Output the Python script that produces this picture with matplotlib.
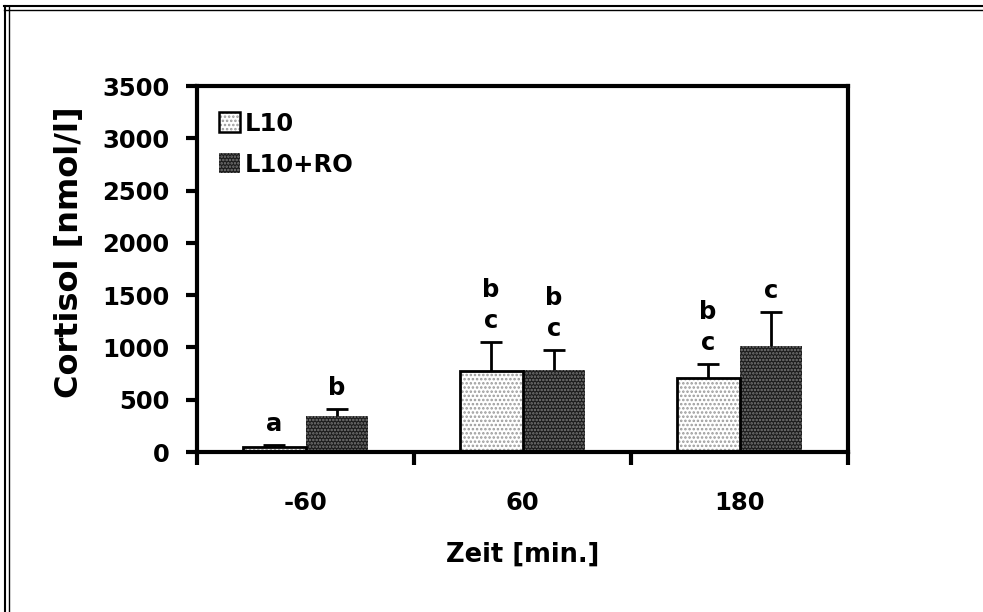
import matplotlib
matplotlib.use("Agg")
import matplotlib.pyplot as plt
from matplotlib.patches import Patch
from matplotlib.lines import Line2D
import numpy as np

categories = ["-60", "60", "180"]
series_names = ["L10", "L10+RO"]
l10_mean = [48, 775, 708]
l10_err = [20, 277, 134]
ro_mean = [344, 784, 1014]
ro_err = [67, 191, 325]
l10_letters = ["a", "b\nc", "b\nc"]
ro_letters = ["b", "b\nc", "c"]
yticks = [0, 500, 1000, 1500, 2000, 2500, 3000, 3500]

plt.rcParams['font.family'] = ['DejaVu Sans']
plt.rcParams['font.weight'] = 'bold'
plt.rcParams['hatch.linewidth'] = 1.2

W, H = 983, 612
fig = plt.figure(figsize=(W/100, H/100), dpi=100)
ax = fig.add_axes([197/W, 1-452/H, (848-197)/W, (452-86)/H])

FS = 17.5
x = np.arange(len(categories)) + 0.5
w = 0.29

light_kw = dict(facecolor='white', edgecolor='#9a9a9a', hatch='....', linewidth=0)
dark_kw = dict(facecolor='#1c1c1c', edgecolor='#7a7a7a', hatch='.....', linewidth=0)

# L10 bars: light dotted
ax.bar(x - w/2, l10_mean, w, zorder=2, **light_kw)
ax.bar(x - w/2, l10_mean, w, fill=False, edgecolor='black', linewidth=2, zorder=3)
# L10+RO bars: dark pattern
ax.bar(x + w/2, ro_mean, w, zorder=2, **dark_kw)

for xs, m, e in [(x - w/2, l10_mean, l10_err), (x + w/2, ro_mean, ro_err)]:
    eb = ax.errorbar(xs, m, yerr=[np.zeros(len(m)), e], fmt='none', ecolor='black',
                     elinewidth=2, capsize=8, capthick=2, zorder=4)
    eb[1][0].set_visible(False)

for xs, m, e, labs in [(x - w/2, l10_mean, l10_err, l10_letters), (x + w/2, ro_mean, ro_err, ro_letters)]:
    for xi, mi, ei, lab in zip(xs, m, e, labs):
        ax.annotate(lab, (xi, mi + ei), xytext=(0, 9), textcoords='offset pixels',
                    ha='center', va='bottom', fontsize=FS, fontweight='bold',
                    linespacing=1.35, zorder=5)

ax.set_xlim(0, 3)
ax.set_ylim(0, 3500)
ax.set_yticks(yticks)
ax.set_yticklabels([str(t) for t in yticks])
ax.set_xticks([0, 1, 2, 3])
ax.set_xticklabels([])
ax.set_xticks(x, minor=True)
ax.set_xticklabels(categories, minor=True)
ax.tick_params(axis='x', which='major', direction='out', length=9, width=3)
ax.tick_params(axis='x', which='minor', length=0, pad=28, labelsize=FS)
ax.tick_params(axis='y', direction='out', length=8, width=3, pad=12, labelsize=FS)
for lab in ax.get_xticklabels(minor=True) + ax.get_yticklabels():
    lab.set_fontweight('bold')
for s in ax.spines.values():
    s.set_linewidth(3)

ax.set_ylabel("Cortisol [nmol/l]", fontsize=23, fontweight='bold')
ax.yaxis.set_label_coords(-0.172, 0.545)
ax.set_xlabel("Zeit [min.]", fontsize=18.5, fontweight='bold', labelpad=19)

h1 = Patch(edgecolor='black', fill=False, linewidth=1.8)
h1b = Patch(**light_kw)
h2 = Patch(**dark_kw)
leg = ax.legend([(h1b, h1), h2], series_names, loc='upper left', bbox_to_anchor=(0.0, 0.99),
                frameon=False, handlelength=0.85, handleheight=0.85,
                handletextpad=0.2, labelspacing=0.7, prop={'weight': 'bold', 'size': FS})

# figure frame (double lines at top and left)
for yy in [6, 10]:
    fig.add_artist(Line2D([4/W, 1], [1-yy/H, 1-yy/H], color='black', linewidth=1.5 if yy == 6 else 1.0, transform=fig.transFigure))
for xx in [5, 9]:
    fig.add_artist(Line2D([xx/W, xx/W], [0, 1-6/H], color='black', linewidth=1.5 if xx == 5 else 1.0, transform=fig.transFigure))

fig.savefig("out.png", dpi=100)
